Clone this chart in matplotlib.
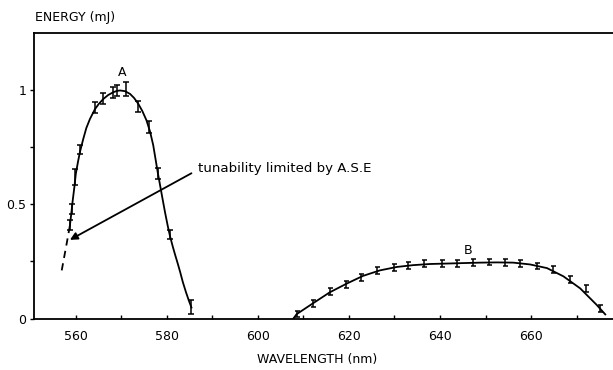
import matplotlib
matplotlib.use("Agg")
import matplotlib.pyplot as plt

plt.rcParams['font.family'] = ['DejaVu Sans Condensed', 'DejaVu Sans']

# ---- measured points (with error bars) ----
a_wavelength = [558.7, 559.1, 559.8, 560.9, 564.2, 566.0, 568.1, 569.0, 571.1, 573.7, 576.1, 578.0, 580.7, 585.4]
a_energy     = [0.41, 0.48, 0.62, 0.74, 0.925, 0.965, 0.99, 1.0, 1.005, 0.93, 0.84, 0.635, 0.37, 0.05]
a_err        = [0.02, 0.02, 0.035, 0.02, 0.025, 0.025, 0.025, 0.025, 0.03, 0.025, 0.025, 0.025, 0.02, 0.03]

b_wavelength = [608.5, 612.2, 615.8, 619.3, 622.6, 626.2, 629.9, 633.0, 636.5, 640.4, 643.7, 647.3,
                650.8, 654.3, 657.6, 661.3, 664.9, 668.6, 672.1, 675.2]
b_energy     = [0.02, 0.065, 0.12, 0.15, 0.18, 0.21, 0.222, 0.233, 0.24, 0.24, 0.242, 0.245,
                0.248, 0.245, 0.24, 0.23, 0.215, 0.17, 0.13, 0.045]
b_err        = [0.015] * len(b_wavelength)

# ---- hand-drawn fitted curves ----
a_curve_x = [558.7, 559.0, 559.3, 559.7, 560.0, 560.5, 560.9, 561.6, 562.3, 563.1, 564.2, 565.0,
             566.0, 567.1, 568.2, 569.0, 569.7, 570.8, 571.9, 572.8, 573.7, 574.6, 575.5, 576.3,
             577.0, 577.5, 578.0, 578.5, 579.0, 579.6, 580.2, 580.7, 581.3, 581.8, 582.4, 582.9,
             583.5, 584.2, 584.8, 585.4]
a_curve_y = [0.408, 0.46, 0.515, 0.58, 0.635, 0.69, 0.73, 0.785, 0.835, 0.875, 0.918, 0.94,
             0.962, 0.98, 0.992, 0.998, 1.0, 0.997, 0.985, 0.967, 0.942, 0.91, 0.87, 0.82,
             0.76, 0.70, 0.64, 0.585, 0.53, 0.465, 0.405, 0.36, 0.315, 0.28, 0.24, 0.205,
             0.16, 0.115, 0.08, 0.048]
a_dash_x = [556.9, 558.0, 558.7]
a_dash_y = [0.211, 0.33, 0.408]

b_curve_x = [607.8, 608.5, 612.2, 615.8, 619.5, 623.1, 626.8, 630.5, 634.1, 637.8, 641.5, 645.1,
             648.8, 652.5, 656.1, 659.8, 663.5, 667.1, 670.8, 674.4, 676.3]
b_curve_y = [0.0, 0.019, 0.068, 0.115, 0.153, 0.187, 0.211, 0.226, 0.234, 0.239, 0.241, 0.243,
             0.245, 0.246, 0.245, 0.237, 0.221, 0.185, 0.132, 0.060, 0.018]

x_major = [560, 580, 600, 620, 640, 660]
x_minor = [570, 590, 610, 630, 650, 670]
y_major = [0, 0.5, 1]
y_labels = ['0', '0.5', '1']
y_minor = [0.25, 0.75]

W, H = 613, 370
fig = plt.figure(figsize=(W / 100, H / 100), dpi=100)
left_px, right_px, top_px, bottom_px = 33.5, 613, 33, 318.5
ax = fig.add_axes([left_px / W, (H - bottom_px) / H, (right_px - left_px) / W, (bottom_px - top_px) / H])

ax.set_xlim(550.7, 678.0)
ax.set_ylim(0, 1.252)

lw = 1.3
ax.plot(a_curve_x, a_curve_y, color='black', lw=lw, solid_joinstyle='round')
ax.plot(a_dash_x, a_dash_y, color='black', lw=lw, ls=(0, (4, 3)))
ax.plot(b_curve_x, b_curve_y, color='black', lw=lw, solid_joinstyle='round')

ax.errorbar(a_wavelength, a_energy, yerr=a_err, fmt='none', ecolor='black',
            elinewidth=1.1, capsize=2, capthick=1.1)
ax.errorbar(b_wavelength, b_energy, yerr=b_err, fmt='none', ecolor='black',
            elinewidth=1.1, capsize=1.8, capthick=1.1)

ax.text(570.2, 1.08, 'A', ha='center', va='center', fontsize=9)
ax.text(646.2, 0.30, 'B', ha='center', va='center', fontsize=9)

ax.annotate('', xy=(558.7, 0.345), xytext=(585.4, 0.637),
            arrowprops=dict(arrowstyle='-|>', color='black', lw=1.3, mutation_scale=11,
                            shrinkA=0, shrinkB=0))
ax.text(586.9, 0.657, 'tunability limited by A.S.E', ha='left', va='center', fontsize=9.6)

ax.spines['right'].set_visible(False)
for s in ['left', 'bottom', 'top']:
    ax.spines[s].set_linewidth(1.3)

ax.set_xticks(x_major)
ax.set_xticklabels([str(v) for v in x_major], fontsize=9)
ax.set_xticks(x_minor, minor=True)
ax.set_yticks(y_major)
ax.set_yticklabels(y_labels, fontsize=9)
ax.set_yticks(y_minor, minor=True)
ax.tick_params(axis='x', which='both', direction='in', length=3, width=1, pad=8)
ax.tick_params(axis='y', which='both', direction='out', length=3, width=1, pad=2)

fig.text(35 / W, 1 - 18 / H, 'ENERGY (mJ)', ha='left', va='center', fontsize=9)
fig.text(317 / W, 1 - 359 / H, 'WAVELENGTH (nm)', ha='center', va='center', fontsize=9)

fig.savefig('out.png', dpi=100)
